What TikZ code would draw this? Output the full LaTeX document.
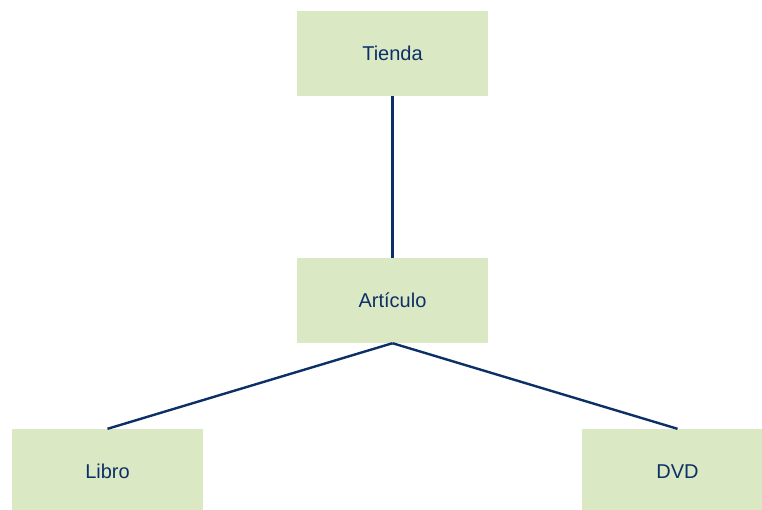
\documentclass[tikz,border=0pt]{standalone}
\usepackage{fontspec}
\setmainfont{Liberation Sans}
\definecolor{boxfill}{HTML}{DAE9C3}
\definecolor{navy}{HTML}{0C2F68}
\begin{document}
\begin{tikzpicture}[x=1pt,y=-1pt,
  classbox/.style={rectangle, fill=boxfill, draw=none, minimum width=191pt, minimum height=85pt,
    inner sep=0pt, text=navy, font=\fontsize{20}{24}\selectfont},
  link/.style={draw=navy, line width=2.4pt}]
  \clip (0,0) rectangle (762,509);
  \useasboundingbox (0,0) rectangle (762,509);
  \node[classbox] (tienda) at (392.5,53.5) {Tienda};
  \node[classbox] (articulo) at (392.5,300.5) {Artículo};
  \node[classbox] (libro) at (107.5,471.5) {Libro};
  \node[classbox] (dvd) at (677.5,471.5) {DVD};
  \draw[link] (tienda.south) -- (articulo.north);
  \draw[link] (articulo.south) -- (libro.north);
  \draw[link] (articulo.south) -- (dvd.north);
\end{tikzpicture}
\end{document}
